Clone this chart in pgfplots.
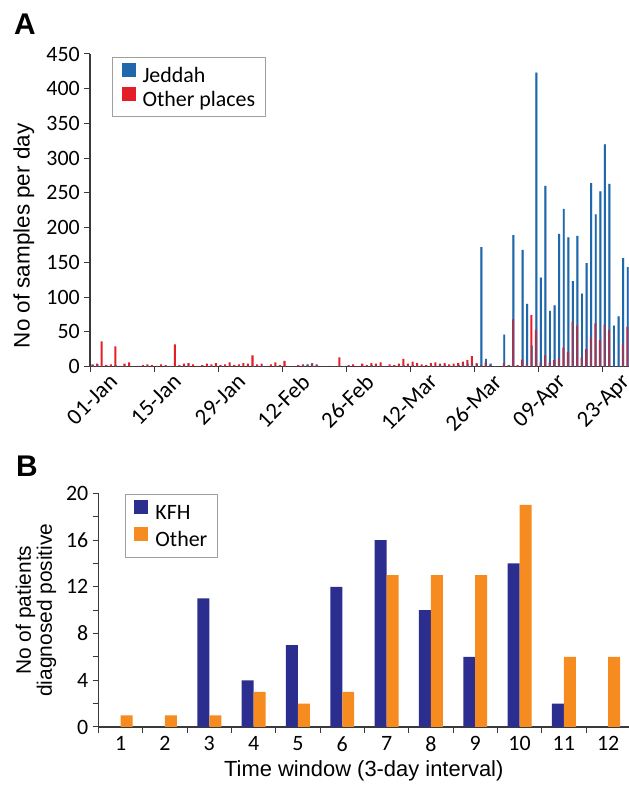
\documentclass[border=0pt]{standalone}
\usepackage{fontspec}
\setmainfont{Carlito}
\newfontfamily\arialf{Liberation Sans}
\usepackage{pgfplots}
\pgfplotsset{compat=1.18}
\usepackage{pgfplotstable}

\definecolor{jed}{HTML}{2068AC}
\definecolor{oth}{HTML}{E31E26}
\definecolor{kfh}{HTML}{2B2E8E}
\definecolor{org}{HTML}{F68B1F}
\definecolor{axc}{HTML}{3A3A3A}

\pgfplotstableread{
d jed oth
0 2 3
1 3 4
2 0 36
3 1 2
4 0 3
5 2 29
6 0 1
7 1 4
8 0 6
9 0 0
10 0 1
11 0 2
12 1 3
13 0 2
14 0 1
15 0 3
16 1 2
17 0 1
18 0 32
19 1 2
20 2 4
21 1 5
22 0 3
23 0 1
24 0 2
25 0 4
26 1 3
27 0 5
28 0 2
29 0 3
30 1 6
31 0 2
32 1 3
33 0 5
34 0 4
35 1 16
36 0 3
37 1 4
38 0 0
39 0 3
40 1 6
41 0 2
42 1 8
43 0 0
44 0 0
45 0 2
46 2 3
47 3 2
48 5 4
49 2 3
50 0 0
51 0 0
52 0 1
53 0 0
54 1 13
55 0 0
56 1 2
57 0 3
58 0 0
59 1 4
60 0 2
61 2 5
62 0 4
63 1 6
64 0 0
65 0 3
66 0 2
67 1 4
68 2 11
69 1 4
70 2 7
71 1 5
72 0 3
73 0 2
74 2 5
75 1 6
76 3 4
77 2 5
78 1 3
79 1 4
80 2 5
81 3 7
82 4 9
83 5 15
84 3 5
85 172 2
86 11 6
87 4 2
88 0 0
89 0 0
90 46 5
91 2 2
92 189 68
93 0 2
94 168 10
95 90 3
96 30 74
97 423 53
98 128 5
99 260 16
100 80 6
101 88 9
102 191 12
103 227 27
104 186 21
105 123 64
106 188 59
107 105 13
108 149 25
109 264 42
110 219 62
111 252 38
112 320 60
113 263 53
114 59 0
115 72 0
116 156 33
117 143 57
}\dataA

\begin{document}
\begin{tikzpicture}
\useasboundingbox (0,0) rectangle (629bp,786bp);
\clip (0,0) rectangle (629bp,786bp);
\pgfplotsset{
  common/.style={
    scale only axis,
    axis x line*=bottom, axis y line*=left,
    axis line style={axc, line width=1.1bp},
    tick style={axc, line width=1bp},
    tick align=outside,
    major tick length=6bp,
    minor tick length=6bp,
    /pgf/number format/assume math mode=true,
    tick label style={font=\fontsize{22}{24}\selectfont},
    legend cell align=left,
    legend image code/.code={\fill[##1] (0bp,0bp) rectangle (14bp,14bp);},
  }
}
\node[anchor=base west, inner sep=0pt, font=\arialf\bfseries\fontsize{30}{30}\selectfont] at (14bp,751bp) {A};
\node[anchor=base west, inner sep=0pt, font=\arialf\bfseries\fontsize{30}{30}\selectfont] at (16bp,309bp) {B};

\begin{axis}[common,
  at={(90bp,419.5bp)}, anchor=south west,
  width=539bp, height=312.5bp,
  xmin=0, xmax=117.9, ymin=0, ymax=450,
  xtick={0,14,...,112},
  xticklabels={01-Jan,15-Jan,29-Jan,12-Feb,26-Feb,12-Mar,26-Mar,09-Apr,23-Apr},
  ytick={0,50,...,450},
  xticklabel style={xshift=18bp, yshift=0bp, rotate=45, anchor=north east, inner sep=0pt, font=\fontsize{23}{25}\selectfont},
  yticklabel style={anchor=east, inner sep=0pt, xshift=-4bp},
  ylabel={No of samples per day},
  ylabel style={at={(axis description cs:-0.1028,0.418)}, anchor=south, inner sep=0pt, font=\arialf\fontsize{22.5}{26}\selectfont},
  legend style={at={(0.041,0.990)}, anchor=north west, draw=gray!75, line width=0.8bp,
    inner xsep=9bp, inner ysep=5bp, font=\fontsize{22}{24}\selectfont,
    nodes={inner sep=1bp, text height=15bp, text depth=4bp},
    /tikz/every even column/.append style={column sep=0bp},
    /tikz/every odd column/.append style={column sep=6bp}},
]
\addplot[ybar, bar width=0.42, bar shift=0.62, fill=jed, draw=none] table[x=d,y=jed]{\dataA};
\addlegendentry{Jeddah}
\addplot[ybar, bar width=0.45, bar shift=0.55, fill=oth, draw=none] table[x=d,y=oth]{\dataA};
\addlegendentry{Other places}
\addplot[ybar, bar width=0.42, bar shift=0.62, fill=jed, fill opacity=0.45, draw=none, forget plot] table[x=d,y=jed]{\dataA};
\end{axis}

\begin{axis}[common,
  at={(98.5bp,59bp)}, anchor=south west,
  width=530.5bp, height=233.7bp,
  xmin=0.5, xmax=12.47, ymin=0, ymax=20,
  xtick={1,...,12},
  minor xtick={0.5,1.5,...,12.5},
  major x tick style={draw=none},
  ytick={0,4,...,20},
  minor ytick={2,6,...,18},
  xticklabel style={anchor=north, inner sep=0pt, yshift=-3bp},
  yticklabel style={anchor=east, inner sep=0pt, xshift=-4bp},
  xlabel={Time window (3-day interval)},
  xlabel style={at={(axis description cs:0.5,0)}, anchor=base, inner sep=0pt, yshift=-49bp, font=\arialf\fontsize{22}{24}\selectfont},
  ylabel={No of patients\\diagnosed positive},
  ylabel style={at={(axis description cs:-0.0795,0.5)}, anchor=south, align=center, inner sep=0pt, font=\arialf\fontsize{21}{21}\selectfont},
  legend style={at={(0.05,0.997)}, anchor=north west, draw=gray!75, line width=0.8bp,
    inner xsep=9bp, inner ysep=6bp, font=\fontsize{22}{24}\selectfont,
    nodes={inner sep=1bp, text height=15bp, text depth=4bp},
    row sep=2bp,
    /tikz/every even column/.append style={column sep=0bp},
    /tikz/every odd column/.append style={column sep=6bp}},
]
\addplot[ybar, bar width=0.27, bar shift=-0.135, fill=kfh, draw=none] coordinates {(1,0)(2,0)(3,11)(4,4)(5,7)(6,12)(7,16)(8,10)(9,6)(10,14)(11,2)(12,0)};
\addlegendentry{KFH}
\addplot[ybar, bar width=0.27, bar shift=0.135, fill=org, draw=none] coordinates {(1,1)(2,1)(3,1)(4,3)(5,2)(6,3)(7,13)(8,13)(9,13)(10,19)(11,6)(12,6)};
\addlegendentry{Other\hspace{19bp}}
\end{axis}
\end{tikzpicture}
\end{document}
